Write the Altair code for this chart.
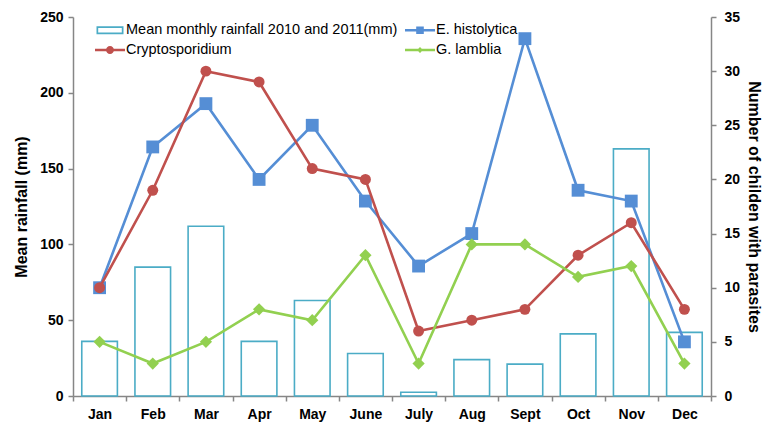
import altair as alt
import pandas as pd

months = ["Jan", "Feb", "Mar", "Apr", "May", "June", "July", "Aug", "Sept", "Oct", "Nov", "Dec"]
rainfall = [36, 85, 112, 36, 63, 28, 2.5, 24, 21, 41, 163, 42]
e_histolytica = [10, 23, 27, 20, 25, 18, 12, 15, 33, 19, 18, 5]
cryptosporidium = [10, 19, 30, 29, 21, 20, 6, 7, 8, 13, 16, 8]
g_lamblia = [5, 3, 5, 8, 7, 13, 3, 14, 14, 11, 12, 3]

# legend entries in column-major order (two rows)
legend_names = ["Mean monthly rainfall 2010 and 2011(mm)", "Cryptosporidium", "E. histolytica", "G. lamblia"]

TEAL = "#4BACC6"
BLUE = "#558ED5"
RED = "#C0504D"
GREEN = "#92D050"
GRAY = "#868686"
FONT = "Liberation Sans"

df_rain = pd.DataFrame({"Month": months, "Rainfall": rainfall})
rows = []
for name, vals in [("E. histolytica", e_histolytica), ("Cryptosporidium", cryptosporidium), ("G. lamblia", g_lamblia)]:
    for m, v in zip(months, vals):
        rows.append({"Month": m, "Series": name, "Count": v})
df_counts = pd.DataFrame(rows)
df_legend = pd.DataFrame({"Series": legend_names})

x_enc = alt.X(
    "Month:N",
    sort=months,
    scale=alt.Scale(paddingInner=0, paddingOuter=0),
    axis=alt.Axis(
        title=None, labelAngle=0, tickBand="extent", domainColor=GRAY, tickColor=GRAY,
        domainWidth=1.5, tickWidth=1.5, tickSize=5, labelFont=FONT, labelFontSize=14,
        labelFontWeight="bold", labelColor="black", labelPadding=6, grid=False,
    ),
)

bars = alt.Chart(df_rain).mark_bar(
    filled=False, color=TEAL, strokeWidth=1.6, width={"band": 0.67}
).encode(
    x=x_enc,
    y=alt.Y(
        "Rainfall:Q",
        scale=alt.Scale(domain=[0, 250], nice=False),
        axis=alt.Axis(
            title="Mean rainfall (mm)", values=[0, 50, 100, 150, 200, 250], grid=False,
            domainColor=GRAY, tickColor=GRAY, domainWidth=1.5, tickWidth=1.5, tickSize=5,
            labelFont=FONT, labelFontSize=14, labelFontWeight="bold", labelColor="black",
            labelPadding=5, titleFont=FONT, titleFontSize=16, titleFontWeight="bold",
            titleColor="black", titlePadding=10,
        ),
    ),
)

count_axis = alt.Axis(
    title="Number of childen with parasites", orient="right", values=[0, 5, 10, 15, 20, 25, 30, 35],
    grid=False, domainColor=GRAY, tickColor=GRAY, domainWidth=1.5, tickWidth=1.5, tickSize=5,
    labelFont=FONT, labelFontSize=14, labelFontWeight="bold", labelColor="black",
    labelPadding=8, titleFont=FONT, titleFontSize=16, titleFontWeight="bold",
    titleColor="black", titlePadding=6,
)
y_count = alt.Y("Count:Q", scale=alt.Scale(domain=[0, 35], nice=False), axis=count_axis)

series_style = [
    ("E. histolytica", BLUE, "square", 165),
    ("Cryptosporidium", RED, "circle", 120),
    ("G. lamblia", GREEN, "diamond", 150),
]
line_layers = []
for name, col, shp, sz in series_style:
    base = alt.Chart(df_counts).transform_filter(alt.datum.Series == name)
    line_layers.append(base.mark_line(color=col, strokeWidth=2.6).encode(x=x_enc, y=y_count))
    line_layers.append(
        base.mark_point(filled=True, color=col, shape=shp, size=sz, opacity=1).encode(x=x_enc, y=y_count)
    )

rect_path = "M-1.35,-0.4H1.35V0.4H-1.35Z M-1.18,-0.23V0.23H1.18V-0.23Z"
line_sq = "M-1.5,-0.12H1.5V0.12H-1.5Z M-0.38,-0.38H0.38V0.38H-0.38Z"
line_circ = "M-1.5,-0.12H1.5V0.12H-1.5Z M0.4,0A0.4,0.4 0 1,1 -0.4,0A0.4,0.4 0 1,1 0.4,0Z"
line_dia = "M-1.5,-0.12H1.5V0.12H-1.5Z M0,-0.3L0.3,0L0,0.3L-0.3,0Z"

legend_props = dict(
    title=None, orient="none", legendX=27, legendY=3, columns=2, padding=0,
    symbolSize=400, symbolOpacity=1, symbolStrokeWidth=0, labelFont=FONT,
    labelFontSize=14.5, labelColor="black", labelOffset=6, rowPadding=3,
    columnPadding=7, labelLimit=400,
)

legend_layer = alt.Chart(df_legend).mark_point(filled=True, opacity=0).encode(
    x=alt.value(0),
    y=alt.value(0),
    color=alt.Color(
        "Series:N",
        scale=alt.Scale(domain=legend_names, range=[TEAL, RED, BLUE, GREEN]),
        legend=alt.Legend(**legend_props),
    ),
    shape=alt.Shape(
        "Series:N",
        scale=alt.Scale(domain=legend_names, range=[rect_path, line_circ, line_sq, line_dia]),
        legend=alt.Legend(**legend_props),
    ),
)

counts = alt.layer(*line_layers, legend_layer)

chart = alt.layer(bars, counts).resolve_scale(y="independent").properties(
    width=638,
    height=379,
    autosize=alt.AutoSizeParams(type="none"),
    padding={"left": 73, "top": 17, "right": 53, "bottom": 29},
    background="white",
).configure_view(stroke=None)

chart.save("out.html", embed_options={"renderer": "svg", "actions": False})
